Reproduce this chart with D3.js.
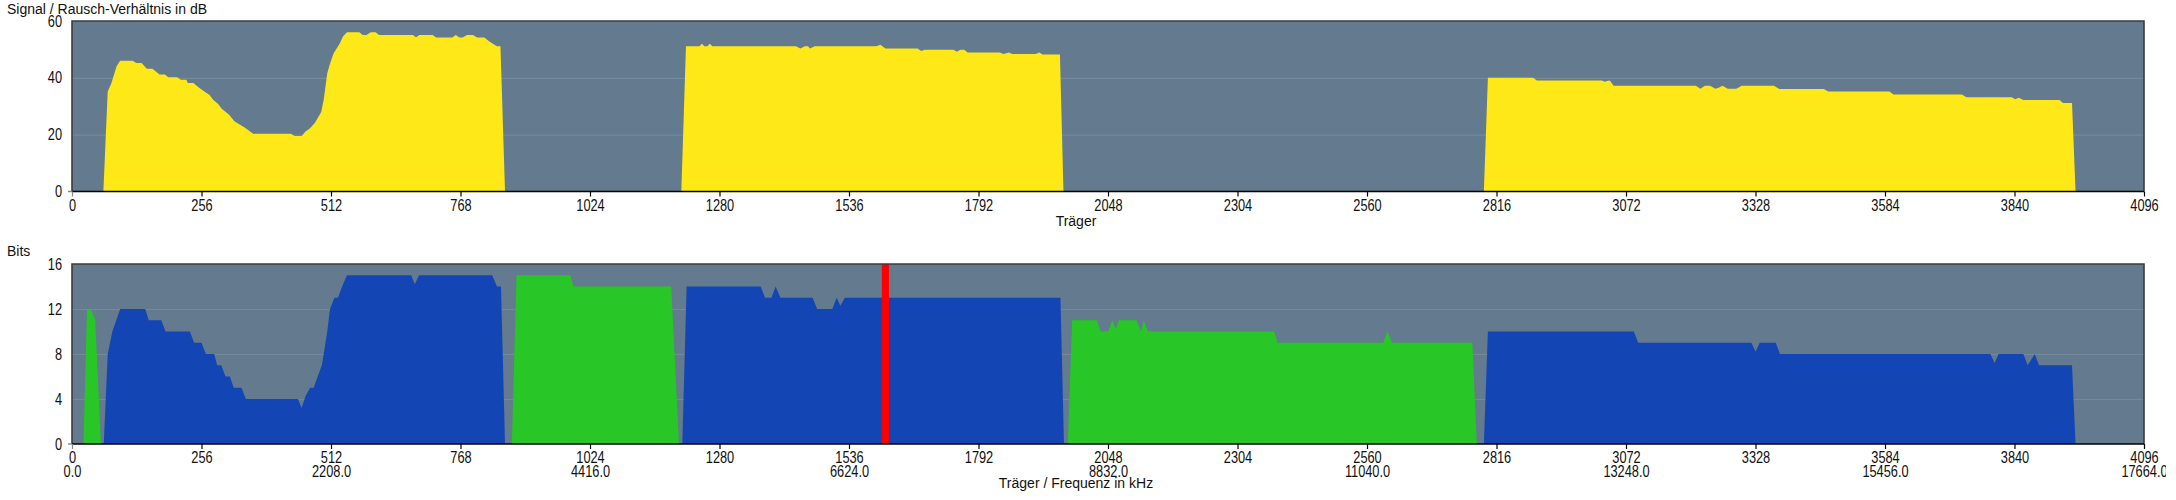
<!DOCTYPE html>
<html>
<head>
<meta charset="utf-8">
<script src="https://cdn.jsdelivr.net/npm/d3@7"></script>
<style>
  html, body { margin: 0; padding: 0; background: #fff; }
  svg { display: block; overflow: hidden; }
  text { font-family: "Liberation Sans", Arial, sans-serif; fill: #111; }
</style>
</head>
<body>
<svg id="chart"></svg>
<script>
// ---------- data ----------
const carrierTicks = [0, 256, 512, 768, 1024, 1280, 1536, 1792, 2048, 2304, 2560, 2816, 3072, 3328, 3584, 3840, 4096];
const freqTickCarriers = [0, 512, 1024, 1536, 2048, 2560, 3072, 3584, 4096];
const freqLabels = ["0.0", "2208.0", "4416.0", "6624.0", "8832.0", "11040.0", "13248.0", "15456.0", "17664.0"];
const snrTicks = [0, 20, 40, 60];
const bitsTicks = [0, 4, 8, 12, 16];

// Signal / noise ratio (carrier, dB)
const snrBand1 = [[62,0],[70.6,35.2],[77.6,38],[88,44],[95,46],[120,46],[127,45.2],[137.6,45.2],[148,43.2],[159,43.2],[173,41.2],[183.5,41.2],[190.6,40.2],[208,40.2],[215,39.3],[226,39.3],[229,38.2],[240,38.2],[250.6,36.6],[261,35.3],[272,34],[279,32.3],[289,30.8],[296,29.1],[310.5,27],[321,24.7],[342,22.4],[358,20.3],[432.7,20.3],[440,19.5],[454,19.5],[462,21.2],[469,22],[480,24.1],[492.6,28],[497.6,32.3],[504.6,41.6],[510,45],[517,48.6],[529,52],[536,54.6],[543.5,56],[568,56],[575,55.1],[582,55.1],[590.8,56],[600,56],[607,55.1],[674,55.1],[680,54.3],[686.8,55.1],[713,55.1],[720,54.2],[751.7,54.2],[758.7,55.1],[765.8,54.2],[772,54.2],[781,55.1],[792.6,55.1],[801,54.2],[815,54.2],[825.8,52.7],[840,51.1],[847,51.1],[856,0]];
const snrBand2 = [[1204.5,0],[1213.7,51.1],[1240,51.1],[1245.5,52],[1250,51.1],[1256,51.1],[1261,52],[1266,51.1],[1431,51.1],[1440,50.3],[1448.7,51.1],[1455,51.1],[1459,50.3],[1468,51.1],[1590,51.1],[1598,51.6],[1608,50.3],[1671.6,50.3],[1678.7,49.4],[1686,49.9],[1742.4,49.9],[1749.5,49.2],[1756,49.9],[1763.7,49.9],[1770.7,48.9],[1834,48.9],[1841.5,48.4],[1852,48.9],[1859,48.4],[1905,48.4],[1912,48.9],[1919,48.2],[1953,48.2],[1960,0]];
const snrBand3 = [[2791,0],[2799,40],[2888.5,40],[2895.6,39.1],[3024,39.1],[3030,38.6],[3035,38.9],[3040,39.1],[3047.5,37.2],[3210,37.2],[3219,36.2],[3228,37.2],[3238,37.2],[3249,36.2],[3256,36.6],[3263,37.2],[3273,36.2],[3290,36.2],[3301,37.2],[3364.5,37.2],[3375,36.1],[3463,36.1],[3472,35.2],[3592.5,35.2],[3601,34.1],[3736,34.1],[3745,33.2],[3834.5,33.2],[3841.5,32.5],[3848.5,33.0],[3857.6,32.2],[3929,32.2],[3936,31.1],[3953.7,31.1],[3960.7,0]];
const snrBands = [snrBand1, snrBand2, snrBand3];

// Bits per carrier (carrier, bits)
const bitsGreen1 = [[22.6,0],[29.6,12],[37.4,12],[45.9,11],[57.2,0]];
const bitsBlue1 = [[62.8,0],[70.6,8],[79.8,10],[95.3,12],[144.7,12],[151.7,11],[176.5,11],[185,10],[233,10],[241.4,9],[256,9],[264.7,8],[281,8],[287,7],[295,7],[303.5,6],[312,6],[319.7,5],[335,5],[343.7,4],[446.8,4],[453.8,3.2],[462,4.3],[470.8,5],[477.8,5],[485.6,6],[494,7],[499,8.4],[504.6,10],[510,12],[518.8,13],[525.8,13],[534,14],[543.5,15],[670.5,15],[677.6,14.2],[686,15],[830.7,15],[840,14],[848,14],[856,0]];
const bitsGreen2 = [[869.5,0],[878.7,15],[985,15],[991.5,14],[1184.6,14],[1200,0]];
const bitsBlue2 = [[1206.5,0],[1215,14],[1361.5,14],[1370,13],[1382.7,13],[1391,14],[1400.4,13],[1464,13],[1473,12],[1503,12],[1511.5,13],[1519,12.3],[1527.7,13],[1954,13],[1961,0]];
const bitsGreen3 = [[1968.5,0],[1977,11],[2025.4,11],[2033.9,10],[2048,10],[2056.5,11],[2063.5,10.2],[2069.2,11],[2104.5,11],[2113,10],[2118.6,11],[2127,10],[2376.4,10],[2383.5,9],[2592,9],[2600.3,10],[2609.5,9],[2768.4,9],[2777,0]];
const bitsBlue3 = [[2791,0],[2799,10],[3087.4,10],[3096,9],[3320,9],[3328,8.2],[3336.4,9],[3368,9],[3376.4,8],[3792.3,8],[3800.8,7.2],[3808.5,8],[3857.6,8],[3866,7],[3880,8],[3888.5,7],[3953.7,7],[3960.7,0]];
const bitsGreenBands = [bitsGreen1, bitsGreen2, bitsGreen3];
const bitsBlueBands = [bitsBlue1, bitsBlue2, bitsBlue3];

// Marker (carrier range)
const markerRange = [1601, 1615];

// ---------- styles ----------
const C = {
  bg: "#637a8f",
  grid: "#75899d",
  frame: "#3c3c3c",
  yellow: "#ffe817",
  blue: "#1346b4",
  green: "#28c626",
  red: "#ff0000"
};
const TICK_FS = 16, TICK_SX = 0.8, TITLE_FS = 14;

const W = 2166, H = 500;
const svg = d3.select("#chart").attr("width", W).attr("height", H);

const x = d3.scaleLinear().domain([0, 4096]).range([72, 2144]);
const ySnr = d3.scaleLinear().domain([0, 60]).range([191.5, 21]);
const yBits = d3.scaleLinear().domain([0, 16]).range([444, 264]);

function narrow(sel) {
  sel.style("font-size", TICK_FS + "px").attr("fill", "#111")
    .attr("transform", `scale(${TICK_SX},1)`);
}

function panel(y, gridTicks, yTicks, title, titleY) {
  const g = svg.append("g");
  const [y0, y1] = y.range();
  g.append("rect").attr("x", x(0)).attr("y", y1).attr("width", x(4096) - x(0)).attr("height", y0 - y1).attr("fill", C.bg);
  g.selectAll("line.grid").data(gridTicks).join("line")
    .attr("class", "grid")
    .attr("x1", x(0)).attr("x2", x(4096))
    .attr("y1", d => y(d) + 0.5).attr("y2", d => y(d) + 0.5)
    .attr("stroke", C.grid).attr("stroke-width", 1.2);
  const ya = d3.axisLeft(y).tickValues(yTicks).tickSize(0).tickPadding(10);
  const yg = svg.append("g").attr("transform", `translate(${x(0)},0)`).call(ya);
  yg.select(".domain").remove();
  yg.selectAll("text").call(narrow).attr("x", -10 / TICK_SX);
  svg.append("text").attr("x", 7).attr("y", titleY).style("font-size", TITLE_FS + "px").text(title);
  return g;
}

function frame(y) {
  const [y0, y1] = y.range();
  const f = svg.append("g");
  f.append("path")
    .attr("d", `M${x(0)},${y0} V${y1} H${x(4096)} V${y0}`)
    .attr("fill", "none").attr("stroke", C.frame).attr("stroke-width", 1.6);
  f.append("line").attr("x1", x(0)).attr("x2", x(4096)).attr("y1", y0).attr("y2", y0)
    .attr("stroke", "#000").attr("stroke-width", 1.6);
  f.append("line").attr("x1", x(0) - 4).attr("x2", x(0)).attr("y1", y0).attr("y2", y0).attr("stroke", "#888").attr("stroke-width", 1.5);
}

function xAxis(y) {
  const y0 = y.range()[0];
  const ax = d3.axisBottom(x).tickValues(carrierTicks).tickSize(5).tickPadding(3).tickFormat(d3.format("d"));
  const g = svg.append("g").attr("transform", `translate(0,${y0})`).call(ax);
  g.select(".domain").remove();
  g.selectAll("line").attr("stroke", "#000").attr("stroke-width", 1.2);
  g.selectAll(".tick").filter(d => d === 0).select("line").attr("stroke", "#888");
  g.selectAll("text").call(narrow);
  return g;
}

// ---------- top panel: SNR ----------
const pTop = panel(ySnr, [20, 40], snrTicks, "Signal / Rausch-Verhältnis in dB", 14);
const areaSnr = d3.area().x(d => x(d[0])).y0(ySnr(0)).y1(d => ySnr(d[1]));
pTop.selectAll("path.snr").data(snrBands).join("path")
  .attr("class", "snr").attr("d", areaSnr).attr("fill", C.yellow);
frame(ySnr);
xAxis(ySnr);
svg.append("text").attr("x", 1076).attr("y", 226).attr("text-anchor", "middle").style("font-size", TITLE_FS + "px").text("Träger");

// ---------- bottom panel: Bits ----------
const pBot = panel(yBits, [4, 8, 12], bitsTicks, "Bits", 256);
const areaBits = d3.area().x(d => x(d[0])).y0(yBits(0)).y1(d => yBits(d[1]));
pBot.selectAll("path.green").data(bitsGreenBands).join("path")
  .attr("class", "green").attr("d", areaBits).attr("fill", C.green);
pBot.selectAll("path.blue").data(bitsBlueBands).join("path")
  .attr("class", "blue").attr("d", areaBits).attr("fill", C.blue);
pBot.append("rect")
  .attr("x", x(markerRange[0])).attr("width", x(markerRange[1]) - x(markerRange[0]))
  .attr("y", yBits(16)).attr("height", yBits(0) - yBits(16))
  .attr("fill", C.red);
frame(yBits);
xAxis(yBits);
const fa = d3.axisBottom(x).tickValues(freqTickCarriers).tickSize(0).tickPadding(0)
  .tickFormat((d, i) => freqLabels[i]);
const fg = svg.append("g").attr("transform", `translate(0,${yBits(0) + 22})`).call(fa);
fg.select(".domain").remove();
fg.selectAll("text").call(narrow);
svg.append("text").attr("x", 1076).attr("y", 488).attr("text-anchor", "middle").style("font-size", TITLE_FS + "px").text("Träger / Frequenz in kHz");
</script>
</body>
</html>
